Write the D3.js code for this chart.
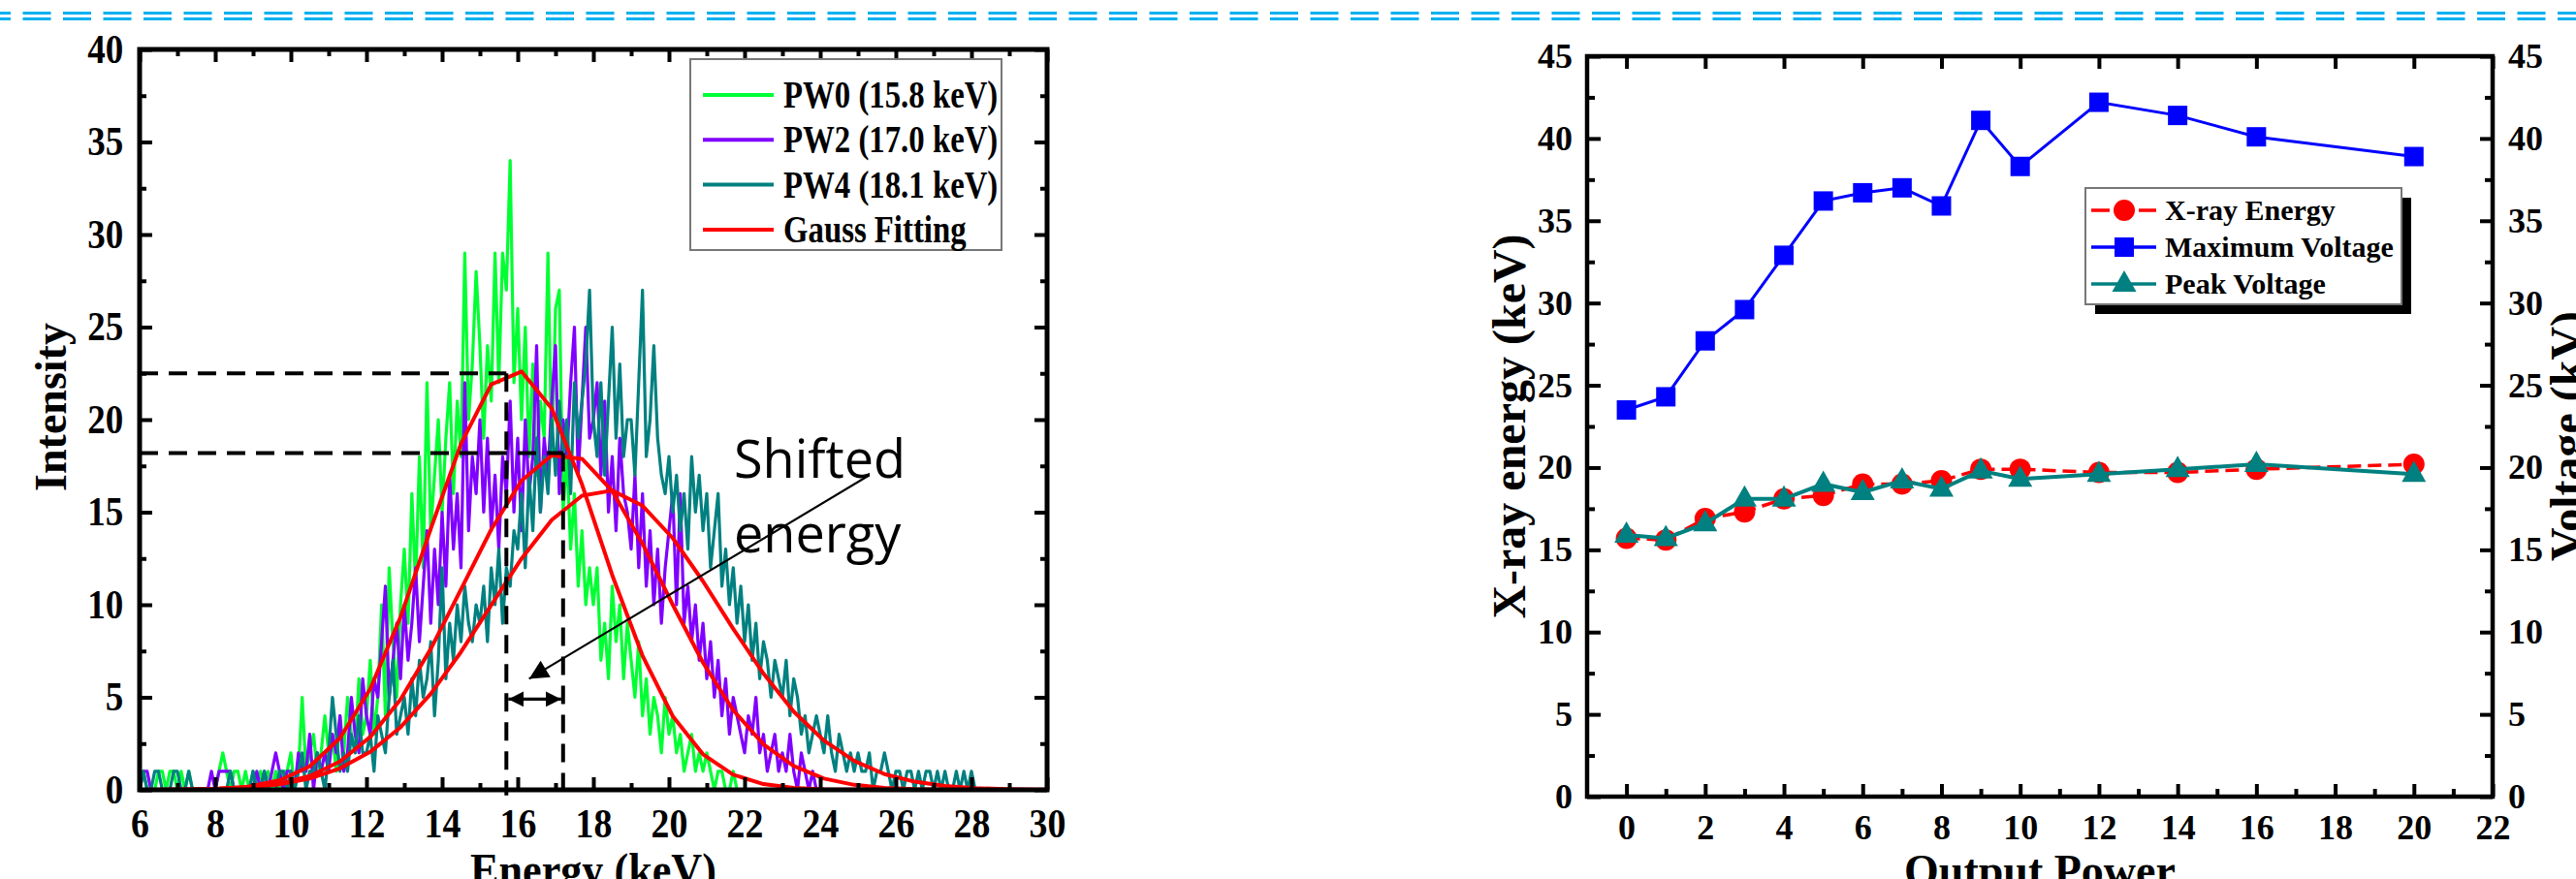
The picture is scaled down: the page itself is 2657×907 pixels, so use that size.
<!DOCTYPE html>
<html><head><meta charset="utf-8">
<script src="https://cdn.jsdelivr.net/npm/d3@7"></script>
<style>body{margin:0;background:#fff;}svg{display:block;}</style>
</head><body>
<svg id="c" width="2657" height="907"></svg>
<script>
// ---------------- DATA ----------------
// Left panel: spectra, one value per 0.1 keV channel starting at 6.0 keV
const energyStart = 6.0, energyStep = 0.1;
const pw0 = [
 0,1,0,0,0,1,1,0,1,1,  0,1,0,1,0,0,0,0,0,0,  0,1,2,1,0,1,1,0,1,0,  1,0,1,0,1,0,1,0,1,1,
 2,0,1,5,1,2,3,1,2,4,  2,3,1,4,2,5,3,2,6,3,  4,7,3,5,10,4,12,8,5,10, 13,9,16,11,18,12,22,14,17,20,
 15,19,22,16,21,18,29,20,23,28, 24,19,24,21,29,22,29,27,34,22, 26,20,25,18,23,17,21,19,29,18,
 26,27,15,18,13,16,11,14,10,12, 10,12,7,9,6,11,8,10,6,9, 7,5,8,4,6,3,5,4,2,5,
 3,4,2,3,1,2,3,1,2,1, 2,1,0,1,1,0,0,1,0,0, 0];
const pw2 = [
 0,1,1,0,0,0,0,0,0,0,  0,0,0,0,0,0,0,0,0,1,  0,1,1,1,1,0,0,0,0,0,  0,1,0,1,0,1,2,1,0,1,
 1,0,2,1,1,3,0,2,1,2,  1,3,2,4,1,2,5,3,2,6,  4,3,6,5,8,11,5,7,9,6,  10,7,9,12,8,11,14,9,13,10,
 15,11,17,13,16,12,22,14,18,16, 20,15,19,14,17,13,18,16,21,15, 19,14,20,16,18,24,15,19,17,21,
 24,16,20,18,22,25,17,21,25,19, 20,22,17,21,15,18,14,19,16,15, 13,17,12,16,11,14,10,13,9,12,
 14,16,10,16,9,11,8,10,7,9, 6,8,5,7,4,6,3,5,4,3, 2,4,3,5,2,3,1,2,3,1, 2,1,3,1,0,2,1,0,1,0, 0];
const pw4 = [
 0,1,0,0,1,1,0,0,0,1,  1,0,0,1,0,0,0,0,0,0,  0,0,0,0,1,0,0,0,0,0,  1,0,0,1,0,0,0,1,1,0,
 1,0,1,2,0,1,1,2,1,0,  2,5,3,1,2,1,3,2,4,2,  2,3,1,4,3,2,5,7,3,4,  5,3,6,4,7,5,6,8,4,7,
 12,6,9,7,10,8,11,9,8,10, 9,11,8,12,10,13,9,12,11,14, 13,16,12,17,14,19,15,18,16,20,
 17,21,18,20,16,22,19,21,23,27, 20,18,22,17,21,25,19,23,18,20, 20,17,22,27,18,20,24,19,17,16,
 18,15,17,14,16,13,18,15,17,14, 16,12,14,16,11,13,10,12,9,11, 8,10,7,9,6,8,7,5,7,6,
 5,7,4,6,5,3,4,2,3,4, 3,2,4,2,1,3,2,1,2,1, 2,1,1,2,0,1,1,2,1,0, 1,1,0,1,1,0,1,0,1,1,
 0,1,0,1,0,0,1,0,1,0, 1,0,0];
// Gauss fitting polylines
const fitEnergy = [6.0,6.5,7.3,8.1,8.9,9.7,10.5,11.3,12.1,12.9,13.7,14.5,15.3,16.1,16.9,17.7,18.5,19.3,20.1,20.9,21.7,22.5,23.3,24.1,24.9,25.7,26.5,27.3,28.1,28.9,29.7,30.0];
const fitPW0 = [0,0.004,0.015,0.06,0.18,0.51,1.27,2.8,5.46,9.33,14.1,18.7,21.9,22.6,20.6,16.5,11.6,7.25,3.98,1.92,0.82,0.31,0.10,0.03,0.01,0,0,0,0,0,0,0];
const fitPW2 = [0.002,0.005,0.017,0.05,0.135,0.33,0.745,1.53,2.86,4.88,7.61,10.83,14.07,16.7,18.08,17.88,16.14,13.3,10.0,6.87,4.30,2.46,1.29,0.61,0.27,0.11,0.04,0.01,0,0,0,0];
const fitPW4 = [0.005,0.009,0.024,0.06,0.14,0.30,0.615,1.16,2.05,3.38,5.19,7.45,9.98,12.49,14.58,15.89,16.17,15.35,13.6,11.27,8.70,6.28,4.23,2.66,1.56,0.85,0.44,0.21,0.09,0.04,0.015,0.01];
const legendLeftLabels = ["PW0 (15.8 keV)","PW2 (17.0 keV)","PW4 (18.1 keV)","Gauss Fitting"];
const peakGuides = [[15.7,22.5],[17.2,18.2]];   // [energy, intensity]
const shiftArrow = [[25.3,17.0],[16.3,6.0]];
const shiftSpan = [15.7,17.2,4.9];
const xTicksLeft = [6,8,10,12,14,16,18,20,22,24,26,28,30];
const xMinorLeft = [7,9,11,13,15,17,19,21,23,25,27,29];
const yTicksLeft = [0,5,10,15,20,25,30,35,40];
const yMinorLeft = [2.5,7.5,12.5,17.5,22.5,27.5,32.5,37.5];

// Right panel
const outputPower = [0,1,2,3,4,5,6,7,8,9,10,12,14,16,20];
const xrayEnergy  = [15.7,15.6,16.9,17.3,18.1,18.3,19.0,19.0,19.2,19.9,19.9,19.7,19.7,19.9,20.2];
const maxVoltage  = [23.5,24.3,27.7,29.6,32.9,36.2,36.7,37.0,35.9,41.1,38.3,42.2,41.4,40.1,38.9];
const peakVoltage = [15.9,15.7,16.6,18.1,18.1,19.0,18.5,19.2,18.7,19.8,19.3,19.6,19.9,20.2,19.6];
const legendRightLabels = ["X-ray Energy","Maximum Voltage","Peak Voltage"];
const xTicksRight = [0,2,4,6,8,10,12,14,16,18,20,22];
const xMinorRight = [1,3,5,7,9,11,13,15,17,19,21];
const yTicksRight = [0,5,10,15,20,25,30,35,40,45];
const yMinorRight = [2.5,7.5,12.5,17.5,22.5,27.5,32.5,37.5,42.5];

// ---------------- DRAW ----------------
const W = 2657, H = 907;
const SERIF = "'Liberation Serif','Times New Roman',serif";
const svg = d3.select('#c');
svg.append('rect').attr('width', W).attr('height', H).attr('fill', '#fff');
const defs = svg.append('defs');
defs.append('marker').attr('id','ah').attr('viewBox','0 0 10 10').attr('refX',10).attr('refY',5)
  .attr('markerWidth',11).attr('markerHeight',9).attr('markerUnits','strokeWidth').attr('orient','auto-start-reverse')
  .append('path').attr('d','M0,0L10,5L0,10Z').attr('fill','#000');
defs.append('marker').attr('id','ah2').attr('viewBox','0 0 10 10').attr('refX',10).attr('refY',5)
  .attr('markerWidth',5).attr('markerHeight',5).attr('markerUnits','strokeWidth').attr('orient','auto-start-reverse')
  .append('path').attr('d','M0,0L10,5L0,10Z').attr('fill','#000');

// top decorative double dashed line
[13.5, 19.5].forEach(y => svg.append('line').attr('x1', -18).attr('x2', W).attr('y1', y).attr('y2', y)
  .attr('stroke', '#00B0F0').attr('stroke-width', 3.2).attr('stroke-dasharray', '29,12.5'));

function styleAxis(g, fs, k) {
  g.select('.domain').remove();
  g.selectAll('.tick line').attr('stroke', '#000').attr('stroke-width', 4);
  g.selectAll('.tick text').attr('font-family', SERIF).attr('font-weight', 'bold')
    .attr('font-size', fs).attr('fill', '#000');
  if (k) g.selectAll('.tick text').attr('transform', `scale(${k},1)`);
}

// ===== LEFT PANEL =====
const L = {x0: 144, x1: 1080, y0: 815, y1: 51};
const xL = d3.scaleLinear().domain([6, 30]).range([L.x0, L.x1]);
const yL = d3.scaleLinear().domain([0, 40]).range([L.y0, L.y1]);
defs.append('clipPath').attr('id', 'clipL').append('rect')
  .attr('x', L.x0).attr('y', L.y1).attr('width', L.x1 - L.x0).attr('height', L.y0 - L.y1);
const gL = svg.append('g');
const plotL = gL.append('g').attr('clip-path', 'url(#clipL)');
const specLine = d3.line().x((d, i) => xL(energyStart + i * energyStep)).y(d => yL(d));
const specColors = ['#00FF33', '#8000FF', '#008080'];
[pw0, pw2, pw4].forEach((arr, k) => plotL.append('path').datum(arr).attr('d', specLine)
  .attr('fill', 'none').attr('stroke', specColors[k]).attr('stroke-width', 3.2).attr('stroke-linejoin', 'round'));
const fitLine = d3.line().x((d, i) => xL(fitEnergy[i])).y(d => yL(d));
[fitPW0, fitPW2, fitPW4].forEach(arr => plotL.append('path').datum(arr).attr('d', fitLine)
  .attr('fill', 'none').attr('stroke', '#FF0000').attr('stroke-width', 4).attr('stroke-linejoin', 'round'));

// guides
peakGuides.forEach(([e, v]) => {
  gL.append('line').attr('x1', xL(6)).attr('x2', xL(e)).attr('y1', yL(v)).attr('y2', yL(v))
    .attr('stroke', '#000').attr('stroke-width', 4).attr('stroke-dasharray', '19,11');
  gL.append('line').attr('x1', xL(e)).attr('x2', xL(e)).attr('y1', yL(v)).attr('y2', yL(-0.3))
    .attr('stroke', '#000').attr('stroke-width', 4).attr('stroke-dasharray', '19,11');
});
gL.append('line').attr('x1', xL(shiftArrow[0][0])).attr('y1', yL(shiftArrow[0][1]))
  .attr('x2', xL(shiftArrow[1][0])).attr('y2', yL(shiftArrow[1][1]))
  .attr('stroke', '#000').attr('stroke-width', 2.2).attr('marker-end', 'url(#ah)');
gL.append('line').attr('x1', xL(shiftSpan[0]) + 2).attr('x2', xL(shiftSpan[1]) - 2)
  .attr('y1', yL(shiftSpan[2])).attr('y2', yL(shiftSpan[2]))
  .attr('stroke', '#000').attr('stroke-width', 3.2).attr('marker-start', 'url(#ah2)').attr('marker-end', 'url(#ah2)');
gL.append('text').attr('x', 757).attr('y', 493).text('Shifted')
  .attr('font-family', "'Open Sans',sans-serif").attr('font-size', 54).attr('fill', '#000');
gL.append('text').attr('x', 757).attr('y', 570).text('energy')
  .attr('font-family', "'Open Sans',sans-serif").attr('font-size', 54).attr('fill', '#000');

// axes
let a;
a = gL.append('g').attr('transform', `translate(0,${L.y0})`)
  .call(d3.axisBottom(xL).tickValues(xTicksLeft).tickSize(-13).tickSizeOuter(0).tickPadding(19).tickFormat(d3.format('d')));
styleAxis(a, 42, 0.9);
a = gL.append('g').attr('transform', `translate(0,${L.y0})`)
  .call(d3.axisBottom(xL).tickValues(xMinorLeft).tickSize(-7).tickSizeOuter(0).tickFormat(''));
styleAxis(a, 42);
a = gL.append('g').attr('transform', `translate(0,${L.y1})`)
  .call(d3.axisTop(xL).tickValues(xTicksLeft).tickSize(-13).tickSizeOuter(0).tickFormat(''));
styleAxis(a, 42);
a = gL.append('g').attr('transform', `translate(0,${L.y1})`)
  .call(d3.axisTop(xL).tickValues(xMinorLeft).tickSize(-7).tickSizeOuter(0).tickFormat(''));
styleAxis(a, 42);
a = gL.append('g').attr('transform', `translate(${L.x0},0)`)
  .call(d3.axisLeft(yL).tickValues(yTicksLeft).tickSize(-13).tickSizeOuter(0).tickPadding(19).tickFormat(d3.format('d')));
styleAxis(a, 42, 0.88);
a = gL.append('g').attr('transform', `translate(${L.x0},0)`)
  .call(d3.axisLeft(yL).tickValues(yMinorLeft).tickSize(-7).tickSizeOuter(0).tickFormat(''));
styleAxis(a, 42);
a = gL.append('g').attr('transform', `translate(${L.x1},0)`)
  .call(d3.axisRight(yL).tickValues(yTicksLeft).tickSize(-13).tickSizeOuter(0).tickFormat(''));
styleAxis(a, 42);
a = gL.append('g').attr('transform', `translate(${L.x1},0)`)
  .call(d3.axisRight(yL).tickValues(yMinorLeft).tickSize(-7).tickSizeOuter(0).tickFormat(''));
styleAxis(a, 42);
gL.append('rect').attr('x', L.x0).attr('y', L.y1).attr('width', L.x1 - L.x0).attr('height', L.y0 - L.y1)
  .attr('fill', 'none').attr('stroke', '#000').attr('stroke-width', 5);

// titles
gL.append('text').attr('transform', `translate(${(L.x0 + L.x1) / 2},914) scale(0.92,1)`)
  .attr('text-anchor', 'middle').attr('font-family', SERIF).attr('font-weight', 'bold').attr('font-size', 48)
  .text('Energy (keV)');
gL.append('text').attr('transform', `translate(68,420) rotate(-90)`)
  .attr('text-anchor', 'middle').attr('font-family', SERIF).attr('font-weight', 'bold').attr('font-size', 46)
  .text('Intensity');

// legend left
const lgL = gL.append('g');
lgL.append('rect').attr('x', 712).attr('y', 61).attr('width', 321).attr('height', 197)
  .attr('fill', '#fff').attr('stroke', '#777').attr('stroke-width', 2);
const legLColors = ['#00FF33', '#8000FF', '#008080', '#FF0000'];
legendLeftLabels.forEach((t, i) => {
  const cy = 98 + i * 46.3;
  lgL.append('line').attr('x1', 725).attr('x2', 798).attr('y1', cy).attr('y2', cy)
    .attr('stroke', legLColors[i]).attr('stroke-width', 4);
  lgL.append('text').attr('transform', `translate(808,${cy + 13}) scale(0.82,1)`)
    .attr('font-family', SERIF).attr('font-weight', 'bold').attr('font-size', 40).text(t);
});

// ===== RIGHT PANEL =====
const R = {x0: 1637, x1: 2571, y0: 822, y1: 58};
const xR = d3.scaleLinear().domain([-1, 22]).range([R.x0, R.x1]);
const yR = d3.scaleLinear().domain([0, 45]).range([R.y0, R.y1]);
const gR = svg.append('g');

a = gR.append('g').attr('transform', `translate(0,${R.y0})`)
  .call(d3.axisBottom(xR).tickValues(xTicksRight).tickSize(-13).tickSizeOuter(0).tickPadding(18).tickFormat(d3.format('d')));
styleAxis(a, 36);
a = gR.append('g').attr('transform', `translate(0,${R.y0})`)
  .call(d3.axisBottom(xR).tickValues(xMinorRight).tickSize(-8).tickSizeOuter(0).tickFormat(''));
styleAxis(a, 36);
a = gR.append('g').attr('transform', `translate(0,${R.y1})`)
  .call(d3.axisTop(xR).tickValues(xTicksRight).tickSize(-13).tickSizeOuter(0).tickFormat(''));
styleAxis(a, 36);
a = gR.append('g').attr('transform', `translate(${R.x0},0)`)
  .call(d3.axisLeft(yR).tickValues(yTicksRight).tickSize(-14).tickSizeOuter(0).tickPadding(15).tickFormat(d3.format('d')));
styleAxis(a, 36);
a = gR.append('g').attr('transform', `translate(${R.x0},0)`)
  .call(d3.axisLeft(yR).tickValues(yMinorRight).tickSize(-8).tickSizeOuter(0).tickFormat(''));
styleAxis(a, 36);
a = gR.append('g').attr('transform', `translate(${R.x1},0)`)
  .call(d3.axisRight(yR).tickValues(yTicksRight).tickSize(-13).tickSizeOuter(0).tickPadding(16).tickFormat(d3.format('d')));
styleAxis(a, 36);
a = gR.append('g').attr('transform', `translate(${R.x1},0)`)
  .call(d3.axisRight(yR).tickValues(yMinorRight).tickSize(-8).tickSizeOuter(0).tickFormat(''));
styleAxis(a, 36);
gR.append('rect').attr('x', R.x0).attr('y', R.y1).attr('width', R.x1 - R.x0).attr('height', R.y0 - R.y1)
  .attr('fill', 'none').attr('stroke', '#000').attr('stroke-width', 4.5);

gR.append('text').attr('transform', `translate(${(R.x0 + R.x1) / 2},914)`)
  .attr('text-anchor', 'middle').attr('font-family', SERIF).attr('font-weight', 'bold').attr('font-size', 46)
  .text('Output Power');
gR.append('text').attr('transform', `translate(1573,440) rotate(-90)`)
  .attr('text-anchor', 'middle').attr('font-family', SERIF).attr('font-weight', 'bold').attr('font-size', 48)
  .text('X-ray energy (keV)');
gR.append('text').attr('transform', `translate(2664,450) rotate(-90)`)
  .attr('text-anchor', 'middle').attr('font-family', SERIF).attr('font-weight', 'bold').attr('font-size', 48)
  .text('Voltage (kV)');

const ptLine = arr => d3.line().x((d, i) => xR(outputPower[i])).y(d => yR(d))(arr);
const sq = (g, cx, cy, col) => g.append('rect').attr('x', cx - 10).attr('y', cy - 10).attr('width', 20).attr('height', 20).attr('fill', col);
const ci = (g, cx, cy, col) => g.append('circle').attr('cx', cx).attr('cy', cy).attr('r', 11).attr('fill', col);
const tri = (g, cx, cy, col) => g.append('path').attr('d', `M${cx},${cy - 14}L${cx + 12.5},${cy + 8}L${cx - 12.5},${cy + 8}Z`).attr('fill', col);

// blue max voltage
gR.append('path').attr('d', ptLine(maxVoltage)).attr('fill', 'none').attr('stroke', '#0000FF').attr('stroke-width', 3);
maxVoltage.forEach((v, i) => sq(gR, xR(outputPower[i]), yR(v), '#0000FF'));
// red x-ray energy
gR.append('path').attr('d', ptLine(xrayEnergy)).attr('fill', 'none').attr('stroke', '#FF0000').attr('stroke-width', 3.5).attr('stroke-dasharray', '14,7');
xrayEnergy.forEach((v, i) => ci(gR, xR(outputPower[i]), yR(v), '#FF0000'));
// teal peak voltage
gR.append('path').attr('d', ptLine(peakVoltage)).attr('fill', 'none').attr('stroke', '#008080').attr('stroke-width', 4);
peakVoltage.forEach((v, i) => tri(gR, xR(outputPower[i]), yR(v), '#008080'));

// legend right
const lgR = gR.append('g');
lgR.append('rect').attr('x', 2161).attr('y', 204).attr('width', 326).attr('height', 120).attr('fill', '#000');
lgR.append('rect').attr('x', 2151).attr('y', 194).attr('width', 326).attr('height', 120)
  .attr('fill', '#fff').attr('stroke', '#777').attr('stroke-width', 2);
const legRColors = ['#FF0000', '#0000FF', '#008080'];
const legRMark = [ci, sq, tri];
legendRightLabels.forEach((t, i) => {
  const cy = 217 + i * 38;
  if (i === 0) {
    lgR.append('line').attr('x1', 2157).attr('x2', 2176).attr('y1', cy).attr('y2', cy).attr('stroke', legRColors[i]).attr('stroke-width', 3.5);
    lgR.append('line').attr('x1', 2206).attr('x2', 2224).attr('y1', cy).attr('y2', cy).attr('stroke', legRColors[i]).attr('stroke-width', 3.5);
  } else {
    lgR.append('line').attr('x1', 2157).attr('x2', 2224).attr('y1', cy).attr('y2', cy).attr('stroke', legRColors[i]).attr('stroke-width', 3.5);
  }
  legRMark[i](lgR, 2191, cy, legRColors[i]);
  lgR.append('text').attr('x', 2233).attr('y', cy + 10).attr('font-family', SERIF).attr('font-weight', 'bold')
    .attr('font-size', 30).text(t);
});
</script>
</body></html>
